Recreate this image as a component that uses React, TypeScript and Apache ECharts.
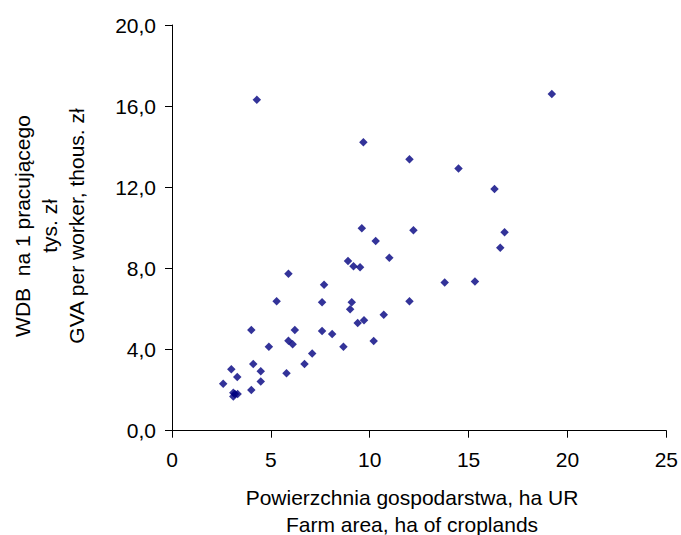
import React, { useEffect, useRef } from "react";
import * as echarts from "echarts";

const farmArea = [
  4.29, 9.68, 12.01, 19.21, 14.49, 16.31, 16.82, 16.6, 13.79, 15.32,
  9.6, 12.21, 10.3, 10.99, 8.9, 9.18, 9.51, 5.89, 7.69, 5.29,
  7.59, 9.09, 12.01, 9.01, 10.71, 9.71, 9.39, 4.01, 6.21, 7.59,
  8.1, 10.2, 5.89, 6.1, 4.9, 8.67, 7.09, 4.11, 6.7, 3.0,
  4.49, 5.79, 3.3, 2.59, 4.49, 4.01, 3.1, 3.32, 3.18, 3.1,
];
const gvaPerWorker = [
  16.31, 14.22, 13.38, 16.6, 12.92, 11.92, 9.78, 9.02, 7.3, 7.35,
  9.98, 9.88, 9.35, 8.52, 8.37, 8.11, 8.06, 7.74, 7.2, 6.38,
  6.33, 6.33, 6.38, 5.99, 5.72, 5.44, 5.31, 4.97, 4.97, 4.92,
  4.77, 4.42, 4.44, 4.26, 4.14, 4.14, 3.8, 3.29, 3.29, 3.03,
  2.93, 2.83, 2.65, 2.32, 2.42, 2.01, 1.87, 1.81, 1.81, 1.68,
];

const xTitle = ["Powierzchnia gospodarstwa, ha UR", "Farm area, ha of croplands"];
const yTitle = ["WDB  na 1 pracującego", "tys. zł", "GVA per worker, thous. zł"];

const FONT = "'Liberation Sans', Arial, sans-serif";
const FS = 21;

export default function App() {
  const ref = useRef<HTMLDivElement>(null);
  useEffect(() => {
    if (!ref.current) return;
    const chart = echarts.init(ref.current, undefined, { renderer: "svg" });
    const data = farmArea.map((x, i) => [x, gvaPerWorker[i]]);
    chart.setOption({
      animation: false,
      backgroundColor: "#ffffff",
      textStyle: { fontFamily: FONT },
      grid: { left: 172, right: 14, top: 25, bottom: 104.3, containLabel: false },
      xAxis: {
        type: "value",
        min: 0,
        max: 25,
        interval: 5,
        splitLine: { show: false },
        axisLine: { show: true, onZero: false, lineStyle: { color: "#000", width: 1 } },
        axisTick: { show: true, length: 7, lineStyle: { color: "#000" } },
        axisLabel: { color: "#000", fontSize: FS, fontFamily: FONT, margin: 18 },
      },
      yAxis: {
        type: "value",
        min: 0,
        max: 20,
        interval: 4,
        splitLine: { show: false },
        axisLine: { show: true, onZero: false, lineStyle: { color: "#000", width: 1 } },
        axisTick: { show: true, length: 7, lineStyle: { color: "#000" } },
        axisLabel: {
          color: "#000",
          fontSize: FS,
          fontFamily: FONT,
          margin: 16,
          formatter: (v: number) => v.toFixed(1).replace(".", ","),
        },
      },
      graphic: [
        {
          type: "text",
          x: 412,
          y: 511,
          style: {
            text: xTitle.join("\n"),
            fontSize: FS,
            fontFamily: FONT,
            fill: "#000",
            lineHeight: 27.5,
            align: "center",
            verticalAlign: "middle",
          },
        },
        {
          type: "text",
          x: 49,
          y: 226,
          rotation: Math.PI / 2,
          style: {
            text: yTitle.join("\n"),
            fontSize: FS,
            fontFamily: FONT,
            fill: "#000",
            lineHeight: 27,
            align: "center",
            verticalAlign: "middle",
          },
        },
      ],
      series: [
        {
          type: "scatter",
          data,
          symbol: "diamond",
          symbolSize: 8.5,
          itemStyle: { color: "#000080" },
        },
      ],
    });
    return () => chart.dispose();
  }, []);
  return (
    <div
      ref={ref}
      style={{ position: "absolute", left: 0, top: 0, width: 681, height: 535 }}
    />
  );
}
